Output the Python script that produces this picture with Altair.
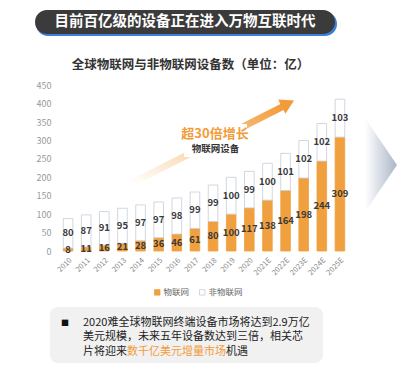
import altair as alt
import pandas as pd

years = ["2010", "2011", "2012", "2013", "2014", "2015", "2016", "2017",
         "2018", "2019", "2020", "2021E", "2022E", "2023E", "2024E", "2025E"]
iot = [8, 11, 16, 21, 28, 36, 46, 61, 80, 100, 117, 138, 164, 198, 244, 309]
non_iot = [80, 87, 91, 95, 97, 97, 98, 99, 99, 100, 99, 100, 101, 102, 102, 103]
series = ["物联网", "非物联网"]
y_ticks = [0, 50, 100, 150, 200, 250, 300, 350, 400, 450]

banner_text = "目前百亿级的设备正在进入万物互联时代"
title_text = "全球物联网与非物联网设备数（单位：亿）"
anno_1 = "超30倍增长"
anno_2 = "物联网设备"
note_l1 = "2020难全球物联网终端设备市场将达到2.9万亿"
note_l2 = "美元规模，未来五年设备数达到三倍，相关芯"
note_l3a = "片将迎来"
note_l3b = "数千亿美元增量市场"
note_l3c = "机遇"

ORANGE = "#F0A03E"
FONT = "Noto Sans CJK SC"

rows = []
for y, a, b in zip(years, iot, non_iot):
    rows.append({"year": y, "type": series[0], "value": a, "ord": 0, "mid": a / 2})
    rows.append({"year": y, "type": series[1], "value": b, "ord": 1, "mid": a + b / 2})
df = pd.DataFrame(rows)

yscale = alt.Scale(domain=[0, 450.5], nice=False, zero=True)
xscale = alt.Scale(paddingInner=0.47, paddingOuter=0.235)
yaxis = alt.Axis(values=y_ticks, grid=False, domain=False, ticks=False,
                 labelFontSize=9, labelColor="#999999", labelPadding=8,
                 labelFont=FONT, labelOverlap=False, labelFlush=False)
xaxis = alt.Axis(labelAngle=-45, labelFontSize=7.5, labelColor="#8a8a8a",
                 ticks=False, domain=False, labelPadding=5, labelFont=FONT)

leg = dict(title=None, orient="none", legendX=94, legendY=203,
           direction="horizontal", symbolType="square",
           symbolSize=30, labelFontSize=8.5, labelColor="#666666",
           labelFont=FONT, columnPadding=7, labelOffset=2,
           symbolStrokeWidth=0.8)

bars = alt.Chart(df).mark_bar(strokeWidth=0.8).encode(
    x=alt.X("year:N", sort=years, title=None, scale=xscale, axis=xaxis),
    y=alt.Y("value:Q", stack=True, title=None, scale=yscale, axis=yaxis),
    fill=alt.Fill("type:N", scale=alt.Scale(domain=series, range=[ORANGE, "#ffffff"]),
                  legend=alt.Legend(**leg)),
    stroke=alt.Stroke("type:N", scale=alt.Scale(domain=series, range=[ORANGE, "#c5cdd9"]),
                      legend=alt.Legend(**leg)),
    order=alt.Order("ord:Q"),
)

labels = alt.Chart(df).mark_text(fontSize=9.5, fontWeight="bold", color="#3a3a3a",
                                 font=FONT, baseline="middle").encode(
    x=alt.X("year:N", sort=years, title=None, scale=xscale, axis=xaxis),
    y=alt.Y("mid:Q", title=None, scale=yscale, axis=yaxis),
    text=alt.Text("value:Q"),
)


def txt(t, x, y, **kw):
    return alt.Chart(pd.DataFrame({"t": [t]})).mark_text(font=FONT, baseline="middle", **kw).encode(
        x=alt.value(x), y=alt.value(y), text="t:N")


def box(x, x2, y, y2, **kw):
    return alt.Chart(pd.DataFrame({"a": [0]})).mark_rect(**kw).encode(
        x=alt.value(x), x2=alt.value(x2), y=alt.value(y), y2=alt.value(y2))


banner_shadow = box(-23, 278, -73, -49, color="#3d7fd9", cornerRadius=12)
banner = box(-24, 276, -75, -51, color="#3b3b3b", cornerRadius=12)
banner_t = txt(banner_text, 126, -63, fontSize=14.5, fontWeight="bold", color="#ffffff", align="center")
title = txt(title_text, 131.5, -20, fontSize=12.5, fontWeight="bold", color="#333333", align="center")

arrow_line = alt.Chart(pd.DataFrame({"a": [0]})).mark_rule(
    strokeWidth=7, strokeCap="butt",
    stroke={"gradient": "linear", "x1": 0, "y1": 1, "x2": 1, "y2": 0,
            "stops": [{"offset": 0, "color": "rgba(242,160,62,0)"},
                      {"offset": 0.5, "color": "rgba(242,160,62,0.5)"},
                      {"offset": 1, "color": "#F29B38"}]}
).encode(x=alt.value(73), x2=alt.value(225), y=alt.value(98), y2=alt.value(21))
arrow_head = alt.Chart(pd.DataFrame({"a": [0]})).mark_point(
    shape="triangle-right", size=256, angle=333, filled=True, color="#F29B38", opacity=1
).encode(x=alt.value(228.9), y=alt.value(18.6))
anno_mask = box(125, 188, 39, 72, color="#ffffff")

anno1 = txt(anno_1, 156, 48.5, fontSize=13, fontWeight="bold", color="#F29B38", align="center")
anno2 = txt(anno_2, 156.5, 64, fontSize=9.5, fontWeight="bold", color="#333333", align="center")

chevron = alt.Chart(pd.DataFrame({"a": [0]})).mark_point(
    shape="M -0.34 -1 L 0.34 0 L -0.34 1 Z", size=8836, filled=True, opacity=1,
    fill={"gradient": "linear", "x1": 0, "y1": 0, "x2": 1, "y2": 0,
          "stops": [{"offset": 0, "color": "#ffffff"},
                    {"offset": 1, "color": "#aab6c6"}]},
    strokeWidth=0
).encode(x=alt.value(322), y=alt.value(80))

note_box = box(-9, 264, 222, 278, color="#f1f1f1", cornerRadius=8)
bullet = txt("■", 6, 239, fontSize=8, color="#111111", align="center")
l1 = txt(note_l1, 24, 237.5, fontSize=11, color="#222222", align="left")
l2 = txt(note_l2, 24, 252, fontSize=11, color="#222222", align="left")
l3a = txt(note_l3a, 24, 266.5, fontSize=11, color="#222222", align="left")
l3b = txt(note_l3b, 68, 266.5, fontSize=11, color="#F29B38", align="left")
l3c = txt(note_l3c, 167, 266.5, fontSize=11, color="#222222", align="left")

chart = alt.layer(
    banner_shadow, banner, banner_t, title, chevron, arrow_line, anno_mask, arrow_head,
    anno1, anno2, bars, labels, note_box, bullet, l1, l2, l3a, l3b, l3c
).properties(
    width=290, height=166, autosize="none",
    padding={"left": 51, "top": 77, "right": 57, "bottom": 116},
    background="#ffffff",
).configure_view(stroke=None)

chart.save("out.html", embed_options={"renderer": "svg", "actions": False})
